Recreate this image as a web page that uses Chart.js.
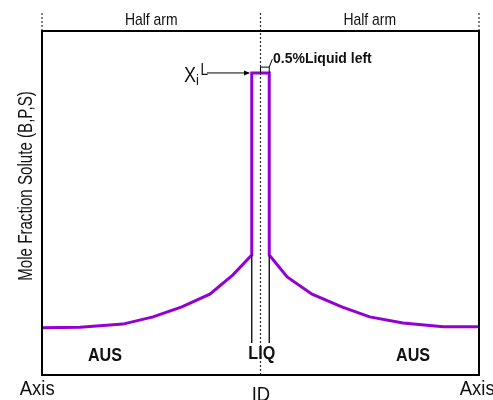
<!DOCTYPE html>
<html>
<head>
<meta charset="utf-8">
<script src="https://cdn.jsdelivr.net/npm/chart.js@4"></script>
<style>
  html, body { margin: 0; padding: 0; background: #fff; }
  #wrap { width: 493px; height: 400px; }
</style>
</head>
<body>
<div id="wrap"><canvas id="profileChart" width="493" height="400"></canvas></div>
<script>
// position along the arm (0 = axis, 50 = ID, 100 = axis) and solute mole fraction (0..1 of the box)
const curveX = [0, 8.7, 18.5, 25.4, 32, 38.4, 43.7, 48, 48, 52, 52, 56.1, 61.8, 68.6, 75, 82.6, 91.8, 100];
const curveY = [0.137, 0.139, 0.148, 0.169, 0.198, 0.235, 0.291, 0.349, 0.878, 0.878, 0.349, 0.285, 0.235, 0.198, 0.169, 0.151, 0.14, 0.14];

const liqEdges = [48, 52];
const interfaceY = [0.093, 0.349];
const dottedX = [0, 50, 100];

const tickLabels = ['Axis', 'ID', 'Axis'];
const tickPos = [-5.1, 50.1, 95.6];
const armLabels = ['Half arm', 'Half arm'];
const armPos = [25, 75];
const phaseLabels = ['AUS', 'LIQ', 'AUS'];
const phasePos = [14.4, 50.3, 84.9];
const yTitle = 'Mole Fraction Solute (B,P,S)';
const noteText = '0.5%Liquid left';

const PURPLE = '#9400d3';
const FONT = '"Liberation Sans", Arial, sans-serif';

const ctx = document.getElementById('profileChart').getContext('2d');

// --- datasets ---
const datasets = [];

// dotted guides: center line through the box, short stubs above it
dottedX.forEach(x => {
    datasets.push({
        data: [{ x: x, y: x === 50 ? 0 : 1 }, { x: x, y: 1.055 }],
        borderColor: '#333',
        borderWidth: 1.2,
        borderDash: [2, 2],
        pointRadius: 0,
        clip: false
    });
});

// interface lines of the liquid
liqEdges.forEach(x => {
    datasets.push({
        data: interfaceY.map(y => ({ x: x, y: y })),
        borderColor: '#000',
        borderWidth: 1.3,
        pointRadius: 0
    });
});

// solute profile
datasets.push({
    data: curveX.map((x, i) => ({ x: x, y: curveY[i] })),
    borderColor: PURPLE,
    borderWidth: 3,
    borderJoinStyle: 'miter',
    pointRadius: 0,
    tension: 0,
    clip: false
});

// text squeezed horizontally, like the original figure
function drawText(c, text, x, y, font, sx, align) {
    c.save();
    c.font = font;
    c.translate(x, y);
    c.scale(sx, 1);
    c.textAlign = align || 'center';
    c.textBaseline = 'alphabetic';
    c.fillText(text, 0, 0);
    c.restore();
}

// --- plugin: box, labels, arrow ---
const decorations = {
    id: 'decorations',
    afterDatasetsDraw(chart) {
        const c = chart.ctx;
        const a = chart.chartArea;
        const sx = chart.scales.x;
        const sy = chart.scales.y;
        const px = v => sx.getPixelForValue(v);
        const py = v => sy.getPixelForValue(v);

        c.save();
        // plot box
        c.strokeStyle = '#000';
        c.lineWidth = 2;
        c.strokeRect(a.left, a.top, a.right - a.left, a.bottom - a.top);

        c.fillStyle = '#111';

        // half arm labels
        armLabels.forEach((t, i) => drawText(c, t, px(armPos[i]), 25, '17px ' + FONT, 0.82));

        // phase labels
        phaseLabels.forEach((t, i) => drawText(c, t, px(phasePos[i]), i === 1 ? 359 : 360.5, 'bold 19px ' + FONT, 0.85));

        // bottom tick labels
        tickLabels.forEach((t, i) => {
            const align = i === 1 ? 'center' : 'left';
            drawText(c, t, px(tickPos[i]), i === 1 ? 401 : 395, '21px ' + FONT, 0.88, align);
        });

        // y title
        c.save();
        c.translate(32, 186);
        c.rotate(-Math.PI / 2);
        drawText(c, yTitle, 0, 0, '21px ' + FONT, 0.72);
        c.restore();

        // X_i^L label with arrow
        const yTop = py(0.878);
        drawText(c, 'X', 184, 82, '22px ' + FONT, 0.82, 'left');
        drawText(c, 'i', 196, 85, '15px ' + FONT, 0.85, 'left');
        drawText(c, 'L', 200.5, 75, '16px ' + FONT, 0.85, 'left');

        c.strokeStyle = '#000';
        c.lineWidth = 1;
        c.beginPath();
        c.moveTo(207, yTop);
        c.lineTo(px(47.3), yTop);
        c.stroke();
        c.beginPath();
        c.moveTo(px(47.6), yTop);
        c.lineTo(px(47.6) - 6, yTop - 2.5);
        c.lineTo(px(47.6) - 6, yTop + 2.5);
        c.closePath();
        c.fillStyle = '#000';
        c.fill();

        // bracket for 0.5% liquid left
        const bTop = py(0.895);
        c.beginPath();
        c.moveTo(px(50), yTop);
        c.lineTo(px(50), bTop);
        c.lineTo(px(52), bTop);
        c.lineTo(px(52), yTop);
        c.stroke();
        c.beginPath();
        c.moveTo(px(52), bTop);
        c.lineTo(px(52.7), py(0.918));
        c.stroke();

        c.fillStyle = '#111';
        drawText(c, noteText, 273, 62.5, 'bold 14px ' + FONT, 1.0, 'left');
        c.restore();
    }
};

const chart = new Chart(ctx, {
    type: 'line',
    data: { datasets: datasets },
    options: {
        responsive: false,
        animation: false,
        layout: { padding: { left: 42, top: 31, right: 14, bottom: 25 } },
        scales: {
            x: { type: 'linear', min: 0, max: 100, display: false },
            y: { type: 'linear', min: 0, max: 1, display: false }
        },
        plugins: {
            legend: { display: false },
            tooltip: { enabled: false }
        }
    },
    plugins: [decorations]
});
</script>
</body>
</html>
